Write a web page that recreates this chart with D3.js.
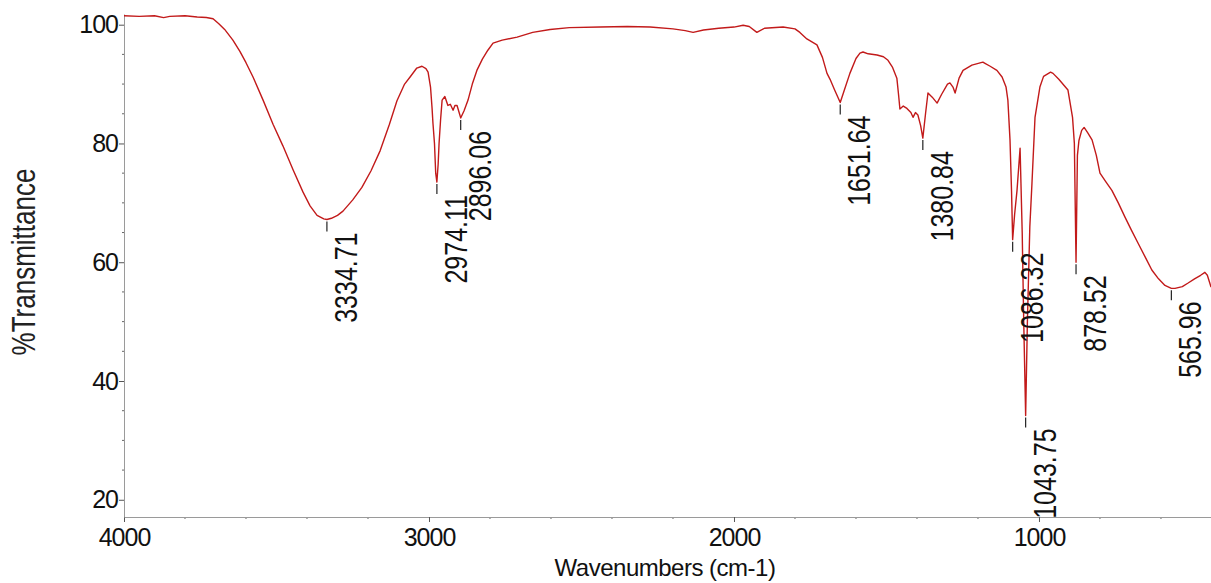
<!DOCTYPE html>
<html lang="en">
<head>
    <meta charset="UTF-8">
    <title>FTIR spectrum</title>
    <style>
        body { margin: 0; background: #fff; }
        #chart-container { width: 1211px; height: 583px; }
        text { font-family: "Liberation Sans", Arial, sans-serif; }
    </style>
</head>
<body>
    <div id="chart-container"></div>

    <script src="https://d3js.org/d3.v7.min.js"></script>
    <script>
// spectrum: wavenumber (cm-1) and %T
const wavenumbers = [
    4000, 3950, 3900, 3870, 3850, 3800, 3760, 3730, 3708, 3690, 3670, 3643, 3620, 3600, 3577,
    3544, 3511, 3479, 3445, 3413, 3390, 3367, 3345, 3334.71, 3320, 3300, 3282, 3250, 3220, 3190,
    3160, 3130, 3105, 3080, 3062, 3040, 3023, 3010, 3003, 2995, 2990, 2987, 2982, 2978, 2974.11,
    2970, 2967, 2962, 2957, 2948, 2938, 2930, 2921, 2915, 2908, 2900, 2896.06, 2885, 2872, 2858,
    2843, 2825, 2807, 2790, 2760, 2711, 2660, 2603, 2540, 2439, 2350, 2275, 2200, 2160, 2134,
    2100, 2050, 2000, 1970, 1950, 1925, 1900, 1839, 1800, 1784, 1761, 1728, 1710, 1695, 1685,
    1670, 1651.64, 1640, 1620, 1600, 1587, 1577, 1560, 1531, 1510, 1495, 1480, 1466, 1460, 1456,
    1445, 1433, 1420, 1413, 1405, 1397, 1388, 1380.84, 1372, 1364, 1350, 1334, 1320, 1300, 1292,
    1282, 1275, 1262, 1249, 1220, 1184, 1177, 1160, 1138, 1121, 1108, 1102, 1095, 1090, 1086.32,
    1080, 1072, 1062, 1055, 1050, 1043.75, 1038, 1030, 1023, 1013, 997, 985, 962, 954, 935,
    905, 890, 884, 878.52, 874, 869, 860, 852, 840, 826, 812, 800, 780, 761, 740,
    718, 697, 675, 652, 630, 608, 587, 565.96, 554, 530, 511, 490, 470, 456, 448,
    440, 436
];
const transmittance = [
    101.5, 101.4, 101.5, 101.2, 101.4, 101.5, 101.3, 101.2, 101.0, 100.2, 99.2, 97.4, 95.5, 93.6, 91.2,
    87.3, 83.2, 79.6, 75.5, 71.8, 69.5, 67.9, 67.3, 67.2, 67.4, 67.9, 68.6, 70.5, 72.6, 75.4,
    78.8, 83.2, 87.2, 90.0, 91.2, 92.7, 93.0, 92.6, 92.0, 89.5, 86.0, 83.4, 80.0, 75.0, 73.5,
    76.5, 80.0, 84.0, 87.3, 87.9, 86.4, 86.6, 85.6, 86.4, 86.4, 85.0, 84.3, 85.5, 87.3, 90.0,
    92.3, 94.2, 95.7, 96.9, 97.4, 97.9, 98.7, 99.2, 99.5, 99.6, 99.7, 99.6, 99.3, 99.0, 98.7,
    99.1, 99.4, 99.6, 99.9, 99.7, 98.7, 99.4, 99.6, 99.3, 98.7, 97.6, 96.6, 94.5, 91.8, 90.8,
    89.0, 86.9, 88.7, 91.8, 94.3, 95.2, 95.4, 95.1, 94.9, 94.6, 94.0, 92.8, 91.0, 88.0, 85.8,
    86.3, 85.9, 85.2, 84.4, 85.2, 84.8, 83.0, 80.9, 85.0, 88.5, 87.8, 86.8, 88.2, 90.0, 90.2,
    89.5, 88.5, 91.0, 92.3, 93.2, 93.7, 93.5, 93.0, 92.3, 91.2, 89.5, 87.3, 80.6, 72.0, 63.8,
    68.0, 72.1, 79.2, 65.0, 50.0, 34.2, 50.0, 66.0, 73.3, 84.4, 89.5, 91.3, 92.0, 91.8, 90.8,
    89.0, 84.4, 80.0, 60.0, 78.0, 80.5, 82.2, 82.7, 81.8, 80.6, 78.0, 75.0, 73.5, 72.1, 70.0,
    67.6, 65.4, 63.2, 60.9, 58.7, 57.2, 56.1, 55.6, 55.6, 55.9, 56.5, 57.2, 57.8, 58.3, 57.8,
    56.5, 55.8
];

// labelled peaks
const peakWavenumbers = [3334.71, 2974.11, 2896.06, 1651.64, 1380.84, 1086.32, 1043.75, 878.52, 565.96];
const peakTransmittance = [67.2, 73.5, 84.3, 86.9, 80.9, 63.8, 34.2, 60.0, 55.6];

const xTicks = [4000, 3000, 2000, 1000];
const yTicks = [20, 40, 60, 80, 100];

document.addEventListener("DOMContentLoaded", function() {
    const width = 1211, height = 583;
    const plot = { left: 124, right: 1211, top: 14, bottom: 517 };
    const curveColor = "#c21a1a";
    const axisColor = "#9a9a9a";

    const data = wavenumbers.map((w, i) => ({ w: w, t: transmittance[i] }));

    const svg = d3.select("#chart-container")
                  .append("svg")
                  .attr("width", width)
                  .attr("height", height)
                  .style("background", "#fff");

    // x axis runs from high to low wavenumber
    const xScale = d3.scaleLinear()
                     .domain([4000, 436])
                     .range([plot.left, plot.right]);

    const yScale = d3.scaleLinear()
                     .domain([17.1, 101.8])
                     .range([plot.bottom, plot.top]);

    // minor ticks first, then the labelled axes on top
    const xMinor = d3.range(3800, 436, -200).filter(d => xTicks.indexOf(d) < 0);
    svg.append("g")
       .selectAll("line")
       .data(xMinor)
       .enter().append("line")
       .attr("x1", d => xScale(d)).attr("x2", d => xScale(d))
       .attr("y1", plot.bottom).attr("y2", plot.bottom + 2)
       .attr("stroke", "#666");

    const yMinor = d3.range(20, 101, 5).filter(d => yTicks.indexOf(d) < 0);
    svg.append("g")
       .selectAll("line")
       .data(yMinor)
       .enter().append("line")
       .attr("x1", plot.left - 2).attr("x2", plot.left)
       .attr("y1", d => yScale(d)).attr("y2", d => yScale(d))
       .attr("stroke", "#666");

    const xAxis = svg.append("g")
       .attr("transform", `translate(0, ${plot.bottom})`)
       .call(d3.axisBottom(xScale).tickValues(xTicks).tickFormat(d3.format("d"))
               .tickSize(5).tickSizeOuter(0).tickPadding(6));

    const yAxis = svg.append("g")
       .attr("transform", `translate(${plot.left}, 0)`)
       .call(d3.axisLeft(yScale).tickValues(yTicks).tickFormat(d3.format("d"))
               .tickSize(5).tickSizeOuter(0).tickPadding(1));

    [xAxis, yAxis].forEach(g => {
        g.select(".domain").attr("stroke", axisColor);
        g.selectAll(".tick line").attr("stroke", "#555");
        g.selectAll(".tick text")
         .attr("fill", "#111")
         .style("font-size", "25px")
         .style("letter-spacing", "-1px")
         .style("font-family", "'Liberation Sans', Arial, sans-serif");
    });

    // axis titles
    svg.append("text")
       .attr("text-anchor", "middle")
       .attr("transform", "translate(35, 262) rotate(-90) scale(1, 1.28)")
       .style("font-size", "26px")
       .attr("fill", "#222")
       .text("%Transmittance");

    svg.append("text")
       .attr("text-anchor", "middle")
       .attr("x", 665)
       .attr("y", 576)
       .style("font-size", "24px")
       .style("letter-spacing", "-0.5px")
       .attr("fill", "#111")
       .text("Wavenumbers (cm-1)");

    // spectrum
    svg.append("clipPath").attr("id", "plot-clip")
       .append("rect")
       .attr("x", plot.left).attr("y", 0)
       .attr("width", plot.right - plot.left).attr("height", plot.bottom);

    const line = d3.line()
                   .x(d => xScale(d.w))
                   .y(d => yScale(d.t));

    svg.append("path")
       .datum(data)
       .attr("clip-path", "url(#plot-clip)")
       .attr("fill", "none")
       .attr("stroke", curveColor)
       .attr("stroke-width", 1.4)
       .attr("stroke-linejoin", "round")
       .attr("d", line);

    // peak markers with rotated labels
    peakWavenumbers.forEach((w, i) => {
        const px = xScale(w);
        const py = yScale(peakTransmittance[i]) + 2;

        svg.append("line")
           .attr("x1", px).attr("x2", px)
           .attr("y1", py).attr("y2", py + 10)
           .attr("stroke", "#222")
           .attr("stroke-width", 1.2);

        svg.append("text")
           .attr("text-anchor", "end")
           .attr("transform", `translate(${px + 30}, ${py + 11}) rotate(-90) scale(1, 1.28)`)
           .style("font-size", "25px")
           .attr("fill", "#111")
           .text(w.toFixed(2));
    });
});
    </script>
</body>
</html>
